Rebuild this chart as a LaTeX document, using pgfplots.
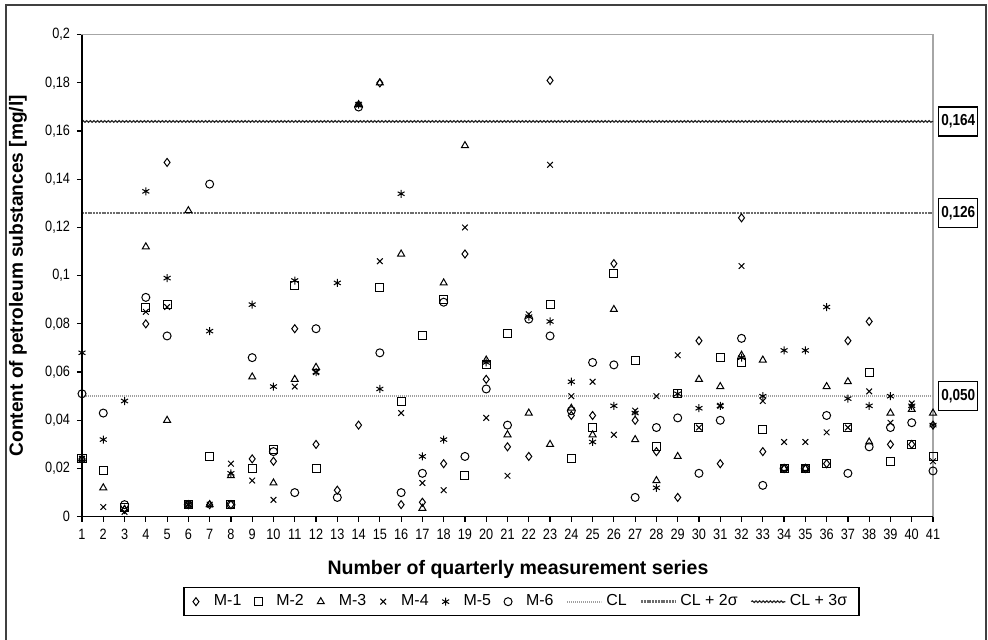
\documentclass[border=0pt]{standalone}
\usepackage{fontspec}
\setmainfont{Liberation Sans}
\newfontfamily\narrowfont{Liberation Sans}[FakeStretch=0.85]
\usepackage{pgfplots}
\pgfplotsset{compat=1.18}
\usetikzlibrary{decorations.pathmorphing}

\pgfplotsset{
  markentry/.style={only marks, mark options={line width=0.5bp},
    legend image code/.code={\path[draw=none, fill=none] (-2bp,0) -- (7bp,0);
      \draw[##1] plot coordinates {(0bp,0bp)};}},
}

\begin{document}
\begin{tikzpicture}
\useasboundingbox (0,0) rectangle (494bp,320bp);
% outer frame of the figure (bottom edge runs off the page)
\draw[line width=1bp, black!75] (3bp,-4bp) rectangle (493bp,317.5bp);

\begin{axis}[
    at={(41bp,61.65bp)}, anchor=south west,
    scale only axis,
    width=425.5bp, height=241bp,
    xmin=1, xmax=41, ymin=0, ymax=0.2,
    xtick={1,...,41},
    ytick={0,0.02,0.04,0.06,0.08,0.1,0.12,0.14,0.16,0.18,0.2},
    xtick pos=bottom, ytick pos=left,
    scaled y ticks=false,
    yticklabel style={/pgf/number format/.cd, fixed, use comma, precision=2},
    /pgf/number format/assume math mode=true,
    tick label style={font=\narrowfont\fontsize{7.5}{9}\selectfont},
    tick align=outside,
    major tick length=2.5bp,
    tick style={black, line width=0.6bp},
    axis line style={gray!70, line width=0.6bp},
    xlabel={Number of quarterly measurement series},
    ylabel={Content of petroleum substances [mg/l]},
    xlabel style={font=\bfseries\fontsize{9.8}{11}\selectfont,
        at={(axis description cs:0.5123,-0.11)}, anchor=center},
    ylabel style={font=\bfseries\fontsize{9.6}{11}\selectfont,
        at={(axis description cs:-0.0752,0.5)}, anchor=center},
    clip=false,
    every axis plot/.append style={black},
    mark size=2bp,
    legend columns=9,
    legend style={at={(axis description cs:0.5165,-0.1763)}, anchor=center,
        draw=black, line width=0.7bp,
        font=\fontsize{8}{9.5}\selectfont,
        /tikz/every even column/.append style={column sep=4.5bp},
        inner xsep=4bp, inner ysep=1.5bp},
]

% M-1
\addplot[markentry, mark=diamond] coordinates {
 (1,0.024) (3,0.003) (4,0.080) (5,0.147) (6,0.005) (7,0.005) (8,0.005)
 (9,0.024) (10,0.023) (11,0.078) (12,0.030) (13,0.011) (14,0.038) (15,0.180)
 (16,0.005) (17,0.006) (18,0.022) (19,0.109) (20,0.057) (21,0.029) (22,0.025)
 (23,0.181) (24,0.042) (25,0.042) (26,0.105) (27,0.040) (28,0.027) (29,0.008)
 (30,0.073) (31,0.022) (32,0.124) (33,0.027) (34,0.020) (35,0.020) (36,0.022)
 (37,0.073) (38,0.081) (39,0.030) (40,0.030) (41,0.038)
};
\addlegendentry{M-1}

% M-2
\addplot[markentry, mark=square] coordinates {
 (1,0.024) (2,0.019) (3,0.004) (4,0.087) (5,0.088) (6,0.005) (7,0.025)
 (8,0.005) (9,0.020) (10,0.028) (11,0.096) (12,0.020) (15,0.095) (16,0.048)
 (17,0.075) (18,0.090) (19,0.017) (20,0.063) (21,0.076) (23,0.088) (24,0.024)
 (25,0.037) (26,0.101) (27,0.065) (28,0.029) (29,0.051) (30,0.037) (31,0.066)
 (32,0.064) (33,0.036) (34,0.020) (35,0.020) (36,0.022) (37,0.037) (38,0.060)
 (39,0.023) (40,0.030) (41,0.025)
};
\addlegendentry{M-2}

% M-3
\addplot[markentry, mark=triangle] coordinates {
 (1,0.024) (2,0.012) (3,0.003) (4,0.112) (5,0.040) (6,0.127) (7,0.005)
 (8,0.017) (9,0.058) (10,0.014) (11,0.057) (12,0.062) (14,0.171) (15,0.180)
 (16,0.109) (17,0.0035) (18,0.097) (19,0.154) (20,0.065) (21,0.034) (22,0.043)
 (23,0.030) (24,0.045) (25,0.034) (26,0.086) (27,0.032) (28,0.015) (29,0.025)
 (30,0.057) (31,0.054) (32,0.067) (33,0.065) (34,0.020) (35,0.020) (36,0.054)
 (37,0.056) (38,0.031) (39,0.043) (40,0.0445) (41,0.043)
};
\addlegendentry{M-3}

% M-4
\addplot[markentry, mark=x] coordinates {
 (1,0.024) (2,0.004) (3,0.002) (4,0.085) (5,0.087) (6,0.005) (7,0.005)
 (8,0.022) (9,0.015) (10,0.007) (11,0.054) (12,0.060) (14,0.171) (15,0.106)
 (16,0.043) (17,0.014) (18,0.011) (19,0.120) (20,0.041) (21,0.017) (22,0.084)
 (23,0.146) (24,0.050) (25,0.056) (26,0.034) (27,0.044) (28,0.050) (29,0.067)
 (30,0.037) (31,0.046) (32,0.104) (33,0.048) (34,0.031) (35,0.031) (36,0.035)
 (37,0.037) (38,0.052) (39,0.039) (40,0.047) (41,0.023)
};
\addlegendentry{M-4}

% M-5
\addplot[markentry, mark=asterisk] coordinates {
 (1,0.068) (2,0.032) (3,0.048) (4,0.135) (5,0.099) (6,0.005) (7,0.077)
 (8,0.018) (9,0.088) (10,0.054) (11,0.098) (12,0.060) (13,0.097) (14,0.171)
 (15,0.053) (16,0.134) (17,0.025) (18,0.032) (20,0.064) (22,0.083) (23,0.081)
 (24,0.056) (25,0.031) (26,0.046) (27,0.043) (28,0.012) (29,0.051) (30,0.045)
 (31,0.046) (32,0.066) (33,0.050) (34,0.069) (35,0.069) (36,0.087) (37,0.049)
 (38,0.046) (39,0.050) (40,0.046) (41,0.038)
};
\addlegendentry{M-5}

% M-6
\addplot[markentry, mark=o] coordinates {
 (1,0.051) (2,0.043) (3,0.005) (4,0.091) (5,0.075) (6,0.005) (7,0.138)
 (8,0.005) (9,0.066) (10,0.027) (11,0.010) (12,0.078) (13,0.008) (14,0.170)
 (15,0.068) (16,0.010) (17,0.018) (18,0.089) (19,0.025) (20,0.053) (21,0.038)
 (22,0.082) (23,0.075) (24,0.044) (25,0.064) (26,0.063) (27,0.008) (28,0.037)
 (29,0.041) (30,0.018) (31,0.040) (32,0.074) (33,0.013) (34,0.020) (35,0.020)
 (36,0.042) (37,0.018) (38,0.029) (39,0.037) (40,0.039) (41,0.019)
};
\addlegendentry{M-6}

% control limits
\addplot[gray!75, line width=0.9bp, dash pattern=on 0.5bp off 0.5bp, no marks]
  coordinates {(1,0.050) (41,0.050)};
\addlegendentry{CL}
\addplot[gray!85!black, line width=1.4bp, dash pattern=on 1bp off 0.4bp, no marks]
  coordinates {(1,0.126) (41,0.126)};
\addlegendentry{CL + 2σ}
\addplot[black!85, line width=0.6bp, no marks, decorate,
  decoration={snake, amplitude=0.4bp, segment length=1.8bp}]
  coordinates {(1,0.164) (41,0.164)};
\addlegendentry{CL + 3σ}

% black left and bottom axis lines
\draw[black, line width=0.8bp] (rel axis cs:0,1) -- (rel axis cs:0,0) -- (rel axis cs:1,0);

% boxed values of the control limits
\node[draw=black, line width=0.7bp, anchor=west, minimum height=14.5bp,
      minimum width=19.5bp, inner sep=1bp,
      font=\narrowfont\bfseries\fontsize{8}{9}\selectfont]
  at (axis cs:41,0.164) [xshift=2.5bp] {0,164};
\node[draw=black, line width=0.7bp, anchor=west, minimum height=14.5bp,
      minimum width=19.5bp, inner sep=1bp,
      font=\narrowfont\bfseries\fontsize{8}{9}\selectfont]
  at (axis cs:41,0.126) [xshift=2.5bp] {0,126};
\node[draw=black, line width=0.7bp, anchor=west, minimum height=14.5bp,
      minimum width=19.5bp, inner sep=1bp,
      font=\narrowfont\bfseries\fontsize{8}{9}\selectfont]
  at (axis cs:41,0.050) [xshift=2.5bp] {0,050};
\end{axis}
\end{tikzpicture}
\end{document}
